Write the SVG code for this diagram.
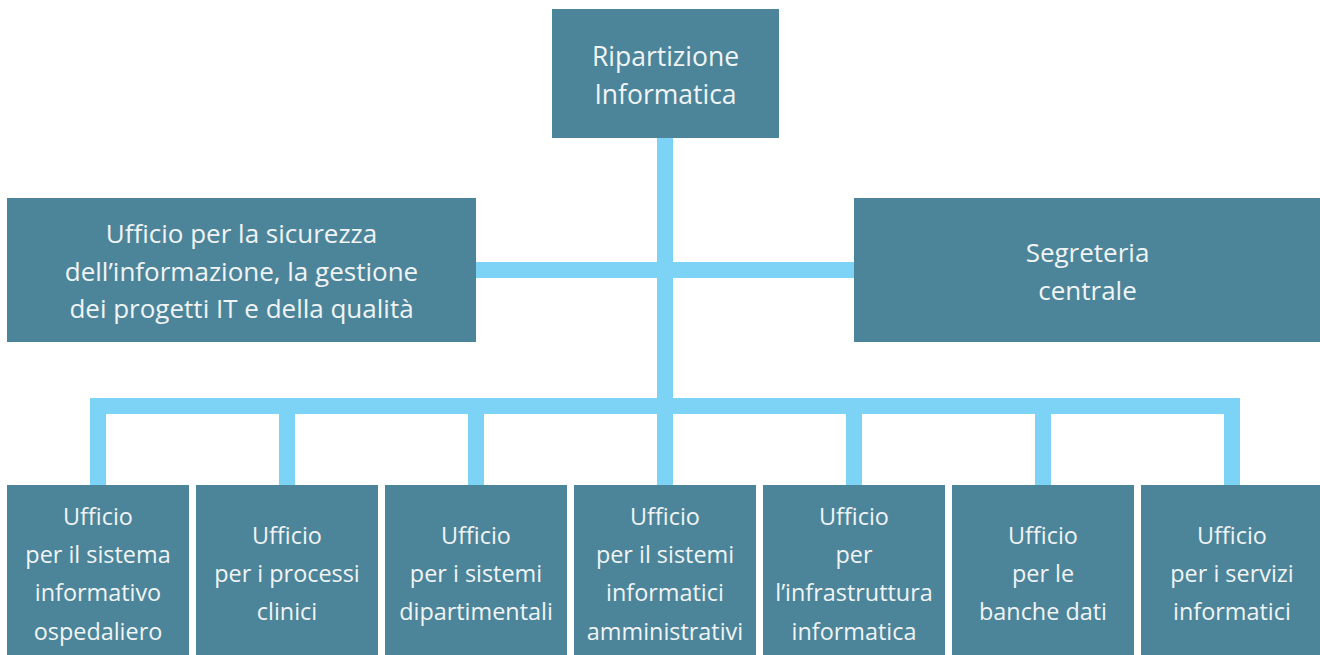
<svg xmlns="http://www.w3.org/2000/svg" width="1320" height="655" viewBox="0 0 1320 655">
<style>
.box{fill:#4C8599;}
.con{fill:#7DD3F5;}
text{font-family:"Open Sans","Noto Sans",sans-serif;font-size:23.4px;fill:#F0F4F6;text-anchor:middle;}
.mid text{font-size:26px;}
.top text{font-size:26.5px;}
</style>
<rect width="1320" height="655" fill="#FFFFFF"/>
<g id="connectors">
<rect class="con" x="657" y="138" width="16" height="347"/>
<rect class="con" x="476" y="262" width="378" height="16"/>
<rect class="con" x="90" y="398" width="1150" height="16"/>
<rect class="con" x="90" y="398" width="16" height="87"/>
<rect class="con" x="279" y="398" width="16" height="87"/>
<rect class="con" x="468" y="398" width="16" height="87"/>
<rect class="con" x="846" y="398" width="16" height="87"/>
<rect class="con" x="1035" y="398" width="16" height="87"/>
<rect class="con" x="1224" y="398" width="16" height="87"/>
</g>
<g id="n-ripartizione" class="top">
<rect class="box" x="552" y="9" width="227" height="129"/>
<text x="665.5" y="66">Ripartizione</text>
<text x="665.5" y="104">Informatica</text>
</g>
<g id="n-sicurezza" class="mid">
<rect class="box" x="7" y="198" width="469" height="144"/>
<text x="241.5" y="243">Ufficio per la sicurezza</text>
<text x="241.5" y="281">dell’informazione, la gestione</text>
<text x="241.5" y="318">dei progetti IT e della qualità</text>
</g>
<g id="n-segreteria" class="mid">
<rect class="box" x="854" y="198" width="466" height="144"/>
<text x="1087.5" y="262">Segreteria</text>
<text x="1087.5" y="300">centrale</text>
</g>
<g id="n-ospedaliero">
<rect class="box" x="7" y="485" width="182" height="170"/>
<text x="98" y="525">Ufficio</text>
<text x="98" y="563">per il sistema</text>
<text x="98" y="601">informativo</text>
<text x="98" y="640">ospedaliero</text>
</g>
<g id="n-clinici">
<rect class="box" x="196" y="485" width="182" height="170"/>
<text x="287" y="544">Ufficio</text>
<text x="287" y="582">per i processi</text>
<text x="287" y="620">clinici</text>
</g>
<g id="n-dipartimentali">
<rect class="box" x="385" y="485" width="182" height="170"/>
<text x="476" y="544">Ufficio</text>
<text x="476" y="582">per i sistemi</text>
<text x="476" y="620">dipartimentali</text>
</g>
<g id="n-amministrativi">
<rect class="box" x="574" y="485" width="182" height="170"/>
<text x="665" y="525">Ufficio</text>
<text x="665" y="563">per il sistemi</text>
<text x="665" y="601">informatici</text>
<text x="665" y="640">amministrativi</text>
</g>
<g id="n-infrastruttura">
<rect class="box" x="763" y="485" width="182" height="170"/>
<text x="854" y="525">Ufficio</text>
<text x="854" y="563">per</text>
<text x="854" y="601">l’infrastruttura</text>
<text x="854" y="640">informatica</text>
</g>
<g id="n-banche">
<rect class="box" x="952" y="485" width="182" height="170"/>
<text x="1043" y="544">Ufficio</text>
<text x="1043" y="582">per le</text>
<text x="1043" y="620">banche dati</text>
</g>
<g id="n-servizi">
<rect class="box" x="1141" y="485" width="182" height="170"/>
<text x="1232" y="544">Ufficio</text>
<text x="1232" y="582">per i servizi</text>
<text x="1232" y="620">informatici</text>
</g>
</svg>
